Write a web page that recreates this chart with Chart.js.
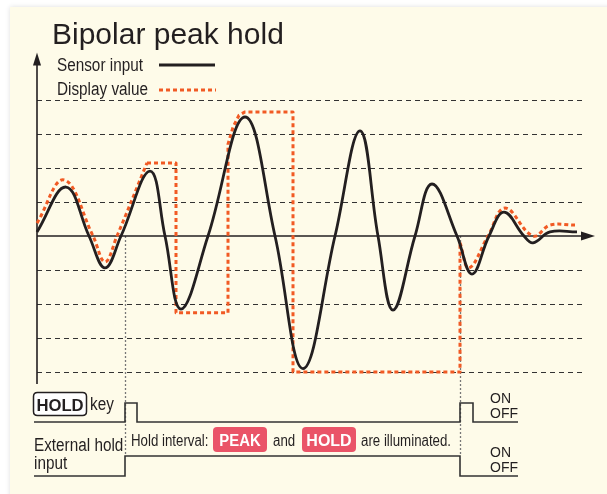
<!DOCTYPE html>
<html>
<head>
<meta charset="utf-8">
<script src="https://cdn.jsdelivr.net/npm/chart.js@4"></script>
<style>
  html, body { margin: 0; padding: 0; background: #fff; }
  canvas { display: block; }
</style>
</head>
<body>
<canvas id="peakChart" width="607" height="494"></canvas>
<script>
// time axis in arbitrary units, signal values in grid divisions
var sensorTime  = [0, 2.9, 5.2, 6.8, 8.4, 11.3, 12.8, 14.4, 17.1, 20.8, 23.8, 26.6, 29.8, 32.3, 34.1, 35.6, 37.8, 39.5, 42.0, 43.5, 45.2, 46.7, 48.7, 49.6, 51.3, 54.0];
var sensorValue = [0.12, 1.44, 0, -0.94, 0, 1.91, 0, -2.15, 0, 3.5, 0, -3.9, 0, 3.09, 0, -2.18, 0, 1.53, 0, -1.12, 0, 0.7, 0, -0.2, 0.12, 0.12];

// display value: tracking before hold, held peaks, tracking after hold
var displayTimeA  = [0, 2.7, 5.6, 6.8, 8.0, 11.0];
var displayValueA = [0.38, 1.65, 0, -0.76, 0, 2.15];
var displayTimeHold  = [11.0, 13.9, 13.9, 19.1, 19.1, 19.6, 20.2, 20.8, 25.6, 25.6, 42.3, 42.3];
var displayValueHold = [2.15, 2.15, -2.26, -2.26, 2.7, 3.2, 3.55, 3.65, 3.65, -4.0, -4.0, -0.2];
var displayTimeB  = [42.3, 43.2, 45.1, 46.8, 49.6, 51.3, 53.8];
var displayValueB = [-0.2, -0.94, 0, 0.82, 0, 0.32, 0.32];

// timing signals (0 = OFF, 1 = ON)
var keyTime  = [-0.3, 8.8, 10.0, 42.3, 43.6, 48.1];
var keyLevel = [0, 1, 0, 1, 0, 0];
var extTime  = [-0.3, 8.8, 42.3, 48.1];
var extLevel = [0, 1, 0, 0];

var holdStart = 8.8;
var holdEnd = 42.3;
var gridLevels = [4, 3, 2, 1, -1, -2, -3, -4];

var INK = '#231f20';
var ORANGE = '#f15a24';
var BADGE = '#ea5468';
var FONT = '"Liberation Sans", Arial, Helvetica, sans-serif';

function pts(ts, vs) {
    return ts.map(function(t, i) { return { x: t, y: vs[i] }; });
}

// condensed text, like the narrow Helvetica of the original
function text(ctx, s, x, y, size, sx, opts) {
    opts = opts || {};
    ctx.save();
    ctx.translate(x, y);
    ctx.scale(sx, 1);
    ctx.font = (opts.bold ? 'bold ' : '') + size + 'px ' + FONT;
    ctx.fillStyle = opts.color || INK;
    ctx.textAlign = opts.align || 'left';
    ctx.textBaseline = 'alphabetic';
    ctx.fillText(s, 0, 0);
    ctx.restore();
}

function roundRect(ctx, x, y, w, h, r) {
    ctx.beginPath();
    ctx.moveTo(x + r, y);
    ctx.lineTo(x + w - r, y);
    ctx.quadraticCurveTo(x + w, y, x + w, y + r);
    ctx.lineTo(x + w, y + h - r);
    ctx.quadraticCurveTo(x + w, y + h, x + w - r, y + h);
    ctx.lineTo(x + r, y + h);
    ctx.quadraticCurveTo(x, y + h, x, y + h - r);
    ctx.lineTo(x, y + r);
    ctx.quadraticCurveTo(x, y, x + r, y);
    ctx.closePath();
}

var diagramPlugin = {
    id: 'diagram',
    beforeDraw: function(chart) {
        var ctx = chart.ctx;
        ctx.save();
        ctx.fillStyle = '#ffffff';
        ctx.fillRect(0, 0, chart.width, chart.height);
        ctx.shadowColor = 'rgba(0,0,0,0.13)';
        ctx.shadowBlur = 5;
        ctx.fillStyle = '#fefbe9';
        ctx.fillRect(10, 7, chart.width, chart.height);
        ctx.restore();
    },
    beforeDatasetsDraw: function(chart) {
        var ctx = chart.ctx;
        var x = chart.scales.x, y = chart.scales.y;
        var x0 = x.getPixelForValue(0);
        var xEnd = x.getPixelForValue(54.9);
        ctx.save();

        // dashed level lines
        ctx.strokeStyle = '#333';
        ctx.lineWidth = 1.2;
        ctx.setLineDash([5, 4]);
        gridLevels.forEach(function(v) {
            var py = Math.round(y.getPixelForValue(v)) + 0.5;
            ctx.beginPath();
            ctx.moveTo(x0, py);
            ctx.lineTo(xEnd, py);
            ctx.stroke();
        });

        // dotted hold markers
        ctx.strokeStyle = '#777';
        ctx.lineWidth = 1.3;
        ctx.setLineDash([2, 2]);
        [holdStart, holdEnd].forEach(function(t) {
            var px = Math.round(x.getPixelForValue(t)) + 0.5;
            ctx.beginPath();
            ctx.moveTo(px, y.getPixelForValue(0));
            ctx.lineTo(px, 456);
            ctx.stroke();
        });
        ctx.setLineDash([]);

        // time axis with arrow
        var yz = y.getPixelForValue(0);
        var tip = x.getPixelForValue(55.8);
        ctx.strokeStyle = INK;
        ctx.fillStyle = INK;
        ctx.lineWidth = 1.6;
        ctx.beginPath();
        ctx.moveTo(x0, yz);
        ctx.lineTo(tip - 8, yz);
        ctx.stroke();
        ctx.beginPath();
        ctx.moveTo(tip - 14, yz - 4.5);
        ctx.lineTo(tip, yz);
        ctx.lineTo(tip - 14, yz + 4.5);
        ctx.closePath();
        ctx.fill();

        // vertical axis with arrow
        var top = y.getPixelForValue(5.4);
        ctx.beginPath();
        ctx.moveTo(x0, y.getPixelForValue(-4.35));
        ctx.lineTo(x0, top + 8);
        ctx.stroke();
        ctx.beginPath();
        ctx.moveTo(x0 - 4, top + 13);
        ctx.lineTo(x0, top);
        ctx.lineTo(x0 + 4, top + 13);
        ctx.closePath();
        ctx.fill();
        ctx.restore();
    },
    afterDraw: function(chart) {
        var ctx = chart.ctx;
        ctx.save();

        // title and legend
        text(ctx, 'Bipolar peak hold', 52, 44, 30, 1);
        text(ctx, 'Sensor input', 57, 71, 18, 0.85);
        text(ctx, 'Display value', 57, 95, 18, 0.85);
        ctx.strokeStyle = INK;
        ctx.lineWidth = 2.8;
        ctx.beginPath();
        ctx.moveTo(159, 65);
        ctx.lineTo(215, 65);
        ctx.stroke();
        ctx.strokeStyle = ORANGE;
        ctx.lineWidth = 3;
        ctx.setLineDash([4, 3]);
        ctx.beginPath();
        ctx.moveTo(159, 90);
        ctx.lineTo(216, 90);
        ctx.stroke();
        ctx.setLineDash([]);

        // HOLD key label
        roundRect(ctx, 33.5, 392.5, 53, 23, 4);
        ctx.fillStyle = '#ffffff';
        ctx.fill();
        ctx.strokeStyle = INK;
        ctx.lineWidth = 1.5;
        ctx.stroke();
        text(ctx, 'HOLD', 60, 410.5, 17, 0.98, { bold: true, align: 'center' });
        text(ctx, 'key', 90, 410, 18, 0.85);

        text(ctx, 'External hold', 34, 451, 18, 0.85);
        text(ctx, 'input', 34, 469, 18, 0.85);

        // hold interval note
        text(ctx, 'Hold interval:', 131, 446, 16, 0.83);
        roundRect(ctx, 213, 427, 54, 25, 4);
        ctx.fillStyle = BADGE;
        ctx.fill();
        text(ctx, 'PEAK', 240, 446, 16, 0.93, { bold: true, align: 'center', color: '#fff' });
        text(ctx, 'and', 273, 446, 16, 0.83);
        roundRect(ctx, 302, 427, 54, 25, 4);
        ctx.fillStyle = BADGE;
        ctx.fill();
        text(ctx, 'HOLD', 329, 446, 16, 1, { bold: true, align: 'center', color: '#fff' });
        text(ctx, 'are illuminated.', 361, 446, 16, 0.83);

        // ON / OFF levels
        text(ctx, 'ON', 490, 403, 14, 1);
        text(ctx, 'OFF', 490, 418, 14, 1);
        text(ctx, 'ON', 490, 457, 14, 1);
        text(ctx, 'OFF', 490, 472, 14, 1);
        ctx.restore();
    }
};

var lineBase = { pointRadius: 0, fill: false, clip: false };

var ctx = document.getElementById('peakChart').getContext('2d');
var chart = new Chart(ctx, {
    type: 'line',
    data: {
        datasets: [
            Object.assign({
                label: 'Sensor input',
                data: pts(sensorTime, sensorValue),
                borderColor: INK,
                borderWidth: 2.8,
                tension: 0.4
            }, lineBase),
            Object.assign({
                label: 'Display value',
                data: pts(displayTimeA, displayValueA),
                borderColor: ORANGE,
                borderWidth: 3,
                borderDash: [4, 3],
                tension: 0.4
            }, lineBase),
            Object.assign({
                label: 'Display value (held)',
                data: pts(displayTimeHold, displayValueHold),
                borderColor: ORANGE,
                borderWidth: 3,
                borderDash: [4, 3],
                borderJoinStyle: 'round',
                tension: 0
            }, lineBase),
            Object.assign({
                label: 'Display value (after)',
                data: pts(displayTimeB, displayValueB),
                borderColor: ORANGE,
                borderWidth: 3,
                borderDash: [4, 3],
                tension: 0.4
            }, lineBase),
            Object.assign({
                label: 'HOLD key',
                data: pts(keyTime, keyLevel),
                yAxisID: 'yKey',
                borderColor: '#333',
                borderWidth: 1.6,
                stepped: 'before'
            }, lineBase),
            Object.assign({
                label: 'External hold input',
                data: pts(extTime, extLevel),
                yAxisID: 'yExt',
                borderColor: '#333',
                borderWidth: 1.6,
                stepped: 'before'
            }, lineBase)
        ]
    },
    options: {
        responsive: false,
        animation: false,
        events: [],
        layout: { padding: 0 },
        plugins: {
            legend: { display: false },
            tooltip: { enabled: false }
        },
        scales: {
            x: { type: 'linear', min: -3.7, max: 57.0, display: false },
            y: { type: 'linear', min: -7.588, max: 6.941, display: false },
            yKey: { type: 'linear', min: -3.79, max: 22.21, display: false },
            yExt: { type: 'linear', min: -0.9, max: 23.8, display: false }
        }
    },
    plugins: [diagramPlugin]
});
</script>
</body>
</html>
